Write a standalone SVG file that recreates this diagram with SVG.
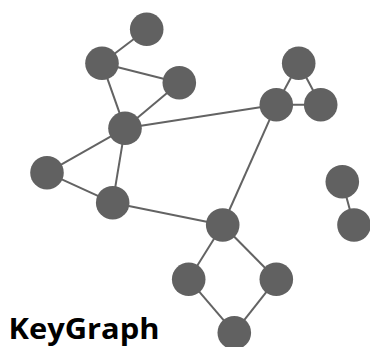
<svg xmlns="http://www.w3.org/2000/svg" width="370" height="347" viewBox="0 0 370 347">
  <style>
    .edge { stroke: #636363; stroke-width: 2; fill: none; }
    .node { fill: #616161; }
    .title { font-family: "Open Sans", "DejaVu Sans", sans-serif; font-weight: bold; font-size: 28px; fill: #000; }
  </style>
  <rect width="370" height="347" fill="#fff"/>
  <g id="edges">
    <line class="edge" x1="146.7" y1="29.3" x2="102" y2="63.3"/>
    <line class="edge" x1="102" y1="63.3" x2="179.3" y2="82.7"/>
    <line class="edge" x1="102" y1="63.3" x2="125" y2="128.3"/>
    <line class="edge" x1="179.3" y1="82.7" x2="125" y2="128.3"/>
    <line class="edge" x1="125" y1="128.3" x2="47" y2="172.7"/>
    <line class="edge" x1="125" y1="128.3" x2="112.7" y2="202.7"/>
    <line class="edge" x1="47" y1="172.7" x2="112.7" y2="202.7"/>
    <line class="edge" x1="125" y1="128.3" x2="276.3" y2="104.7"/>
    <line class="edge" x1="112.7" y1="202.7" x2="222.7" y2="225"/>
    <line class="edge" x1="222.7" y1="225" x2="276.3" y2="104.7"/>
    <line class="edge" x1="222.7" y1="225" x2="188.7" y2="279.3"/>
    <line class="edge" x1="222.7" y1="225" x2="276.3" y2="279.3"/>
    <line class="edge" x1="188.7" y1="279.3" x2="234.3" y2="332.7"/>
    <line class="edge" x1="276.3" y1="279.3" x2="234.3" y2="332.7"/>
    <line class="edge" x1="298.7" y1="63.3" x2="276.3" y2="104.7"/>
    <line class="edge" x1="298.7" y1="63.3" x2="320.7" y2="104.7"/>
    <line class="edge" x1="276.3" y1="104.7" x2="320.7" y2="104.7"/>
    <line class="edge" x1="342.3" y1="181.7" x2="354" y2="225"/>
  </g>
  <g id="n1"><circle class="node" cx="146.7" cy="29.3" r="16.8"/></g>
  <g id="n2"><circle class="node" cx="102" cy="63.3" r="16.8"/></g>
  <g id="n3"><circle class="node" cx="179.3" cy="82.7" r="16.8"/></g>
  <g id="n4"><circle class="node" cx="125" cy="128.3" r="16.8"/></g>
  <g id="n5"><circle class="node" cx="47" cy="172.7" r="16.8"/></g>
  <g id="n6"><circle class="node" cx="112.7" cy="202.7" r="16.8"/></g>
  <g id="n7"><circle class="node" cx="222.7" cy="225" r="16.8"/></g>
  <g id="n8"><circle class="node" cx="188.7" cy="279.3" r="16.8"/></g>
  <g id="n9"><circle class="node" cx="276.3" cy="279.3" r="16.8"/></g>
  <g id="n10"><circle class="node" cx="234.3" cy="332.7" r="16.8"/></g>
  <g id="n11"><circle class="node" cx="298.7" cy="63.3" r="16.8"/></g>
  <g id="n12"><circle class="node" cx="276.3" cy="104.7" r="16.8"/></g>
  <g id="n13"><circle class="node" cx="320.7" cy="104.7" r="16.8"/></g>
  <g id="n14"><circle class="node" cx="342.3" cy="181.7" r="16.8"/></g>
  <g id="n15"><circle class="node" cx="354" cy="225" r="16.8"/></g>
  <text class="title" x="8.5" y="338.5" textLength="151" lengthAdjust="spacingAndGlyphs">KeyGraph</text>
</svg>
